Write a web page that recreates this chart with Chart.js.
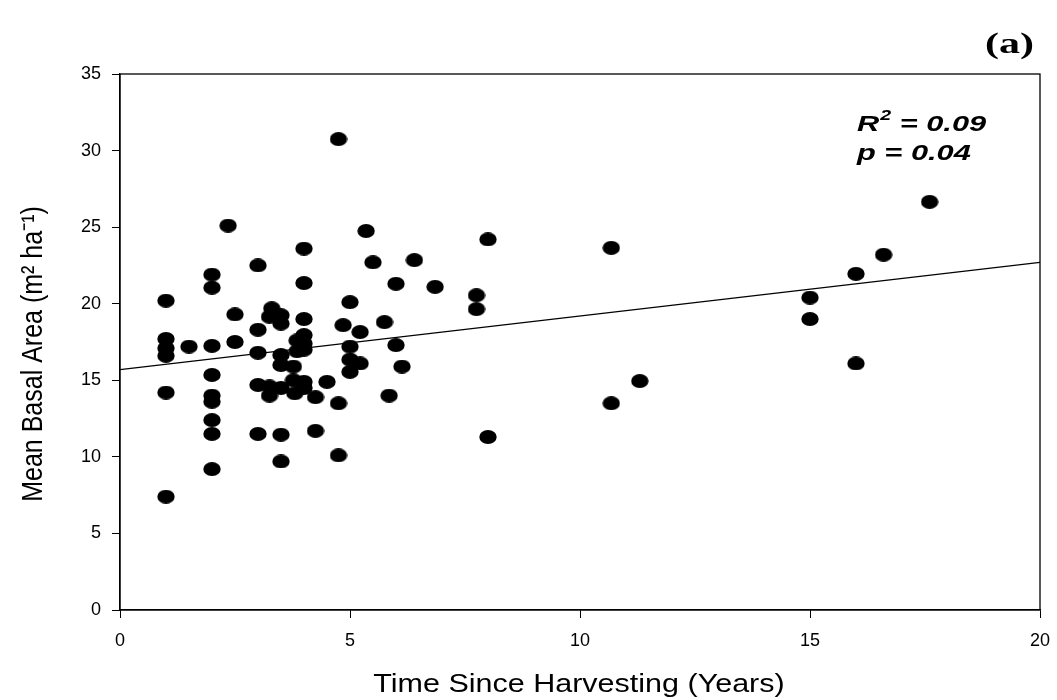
<!DOCTYPE html>
<html lang="en">
<head>
    <meta charset="UTF-8">
    <title>Mean Basal Area vs Time Since Harvesting</title>
    <script src="https://cdn.jsdelivr.net/npm/chart.js"></script>
    <style>
        html, body { margin: 0; padding: 0; background: #fff; }
        #wrap { width: 1057px; height: 700px; }
    </style>
</head>
<body>
    <div id="wrap"><canvas id="chart" width="1057" height="700"></canvas></div>

    <script>
        // Time since harvesting (years) and mean basal area (m2/ha)
        const years = [
            1, 1, 1, 1, 1, 1,
            1.5,
            2, 2, 2, 2, 2, 2, 2, 2, 2,
            2.35,
            2.5, 2.5,
            3, 3, 3, 3, 3,
            3.25, 3.25, 3.25,
            3.3,
            3.5, 3.5, 3.5, 3.5, 3.5, 3.5, 3.5,
            3.77, 3.77,
            3.8,
            3.85, 3.85,
            4, 4, 4, 4, 4, 4, 4, 4,
            4.25, 4.25,
            4.5,
            4.75, 4.75, 4.75,
            4.85,
            5, 5, 5, 5,
            5.22, 5.22,
            5.35,
            5.5,
            5.75,
            5.85,
            6, 6,
            6.13,
            6.4,
            6.85,
            7.75, 7.75,
            8, 8,
            10.68, 10.68,
            11.3,
            15, 15,
            16, 16,
            16.6,
            17.6
        ];
        const basalArea = [
            20.2, 17.7, 17.1, 16.6, 14.2, 7.4,
            17.2,
            21.9, 21.05, 17.25, 15.35, 14.0, 13.6, 12.4, 11.5, 9.2,
            25.1,
            19.3, 17.5,
            22.5, 18.3, 16.8, 14.7, 11.5,
            19.15, 14.6, 14.0,
            19.7,
            19.25, 18.7, 16.65, 16.0, 14.5, 11.45, 9.7,
            15.9, 15.0,
            14.15,
            17.6, 16.9,
            23.6, 21.35, 19.0, 17.95, 17.4, 17.0, 14.9, 14.5,
            13.9, 11.7,
            14.9,
            30.75, 13.5, 10.1,
            18.6,
            20.1, 17.2, 16.35, 15.55,
            18.15, 16.1,
            24.75,
            22.7,
            18.8,
            14.0,
            21.3, 17.3,
            15.9,
            22.85,
            21.1,
            20.55, 19.65,
            24.2, 11.3,
            23.65, 13.5,
            14.95,
            20.4, 19.0,
            21.95, 16.1,
            23.2,
            26.65
        ];

        // fitted regression line end points
        const fitX = [0, 20];
        const fitY = [15.7, 22.7];

        const xTicks = [0, 5, 10, 15, 20];
        const yTicks = [0, 5, 10, 15, 20, 25, 30, 35];

        const xTitle = 'Time Since Harvesting (Years)';
        const yTitle = 'Mean Basal Area (m² ha⁻¹)';

        const points = years.map((x, i) => ({ x: x, y: basalArea[i] }));
        const fitLine = fitX.map((x, i) => ({ x: x, y: fitY[i] }));

        // the original markers are slightly flattened ellipses
        const dot = document.createElement('canvas');
        dot.width = 18;
        dot.height = 14;
        const dctx = dot.getContext('2d');
        dctx.fillStyle = '#000';
        dctx.beginPath();
        dctx.ellipse(9, 7, 8.7, 6.9, 0, 0, Math.PI * 2);
        dctx.fill();

        const sans = '"Liberation Sans", Arial, sans-serif';

        // text in the source figure is stretched sideways, so draw it scaled
        function wideText(ctx, text, x, y, sx) {
            ctx.save();
            ctx.translate(x, y);
            ctx.scale(sx, 1);
            ctx.fillText(text, 0, 0);
            ctx.restore();
            return ctx.measureText(text).width * sx;
        }

        const frameAndText = {
            id: 'frameAndText',
            afterDraw(chart) {
                const { ctx, chartArea } = chart;
                ctx.save();
                ctx.strokeStyle = '#000';
                ctx.lineWidth = 1.3;
                ctx.strokeRect(chartArea.left, chartArea.top,
                    chartArea.right - chartArea.left, chartArea.bottom - chartArea.top);

                ctx.fillStyle = '#000';
                ctx.textBaseline = 'alphabetic';

                // axis titles
                ctx.font = '25px ' + sans;
                ctx.textAlign = 'center';
                wideText(ctx, xTitle, 579, 692, 1.22);

                ctx.save();
                ctx.translate(42, 354);
                ctx.rotate(-Math.PI / 2);
                ctx.scale(1, 1.2);
                ctx.fillText(yTitle, 0, 0);
                ctx.restore();

                // panel letter
                ctx.textAlign = 'left';
                ctx.font = 'bold 30px "Liberation Serif", "Times New Roman", serif';
                wideText(ctx, '(a)', 985, 53, 1.4);

                // statistics
                const big = 'italic bold 22px ' + sans;
                const small = 'italic bold 15px ' + sans;
                let x = 857;
                ctx.font = big;
                x += wideText(ctx, 'R', x, 131, 1.4);
                ctx.font = small;
                x += wideText(ctx, '2', x + 1, 120, 1.3) + 1;
                ctx.font = big;
                wideText(ctx, ' = 0.09', x, 131, 1.4);
                wideText(ctx, 'p = 0.04', 857, 160, 1.4);
                ctx.restore();
            }
        };

        new Chart(document.getElementById('chart'), {
            type: 'scatter',
            data: {
                datasets: [{
                    label: 'Plots',
                    data: points,
                    pointStyle: dot,
                    pointRadius: 8,
                    backgroundColor: '#000',
                    borderColor: '#000'
                }, {
                    type: 'line',
                    label: 'Fit',
                    data: fitLine,
                    borderColor: '#000',
                    borderWidth: 1.3,
                    pointRadius: 0,
                    fill: false
                }]
            },
            options: {
                responsive: false,
                animation: false,
                layout: { padding: { top: 74, right: 17, left: 0, bottom: 0 } },
                plugins: {
                    legend: { display: false },
                    tooltip: { enabled: false }
                },
                scales: {
                    x: {
                        type: 'linear',
                        min: 0,
                        max: 20,
                        afterFit(scale) {
                            scale.height = 90;
                            scale.paddingLeft = 0;
                            scale.paddingRight = 0;
                        },
                        afterBuildTicks(scale) { scale.ticks = xTicks.map(v => ({ value: v })); },
                        grid: { drawOnChartArea: false, drawTicks: true, tickLength: 8, color: '#000' },
                        border: { display: true, color: '#000', width: 1.3 },
                        ticks: {
                            color: '#000',
                            padding: 12,
                            font: { family: sans, size: 18 }
                        }
                    },
                    y: {
                        type: 'linear',
                        min: 0,
                        max: 35,
                        afterFit(scale) { scale.width = 120; },
                        afterBuildTicks(scale) { scale.ticks = yTicks.map(v => ({ value: v })); },
                        grid: { drawOnChartArea: false, drawTicks: true, tickLength: 8, color: '#000' },
                        border: { display: true, color: '#000', width: 1.3 },
                        ticks: {
                            color: '#000',
                            padding: 11,
                            font: { family: sans, size: 18 }
                        }
                    }
                }
            },
            plugins: [frameAndText]
        });
    </script>
</body>
</html>
